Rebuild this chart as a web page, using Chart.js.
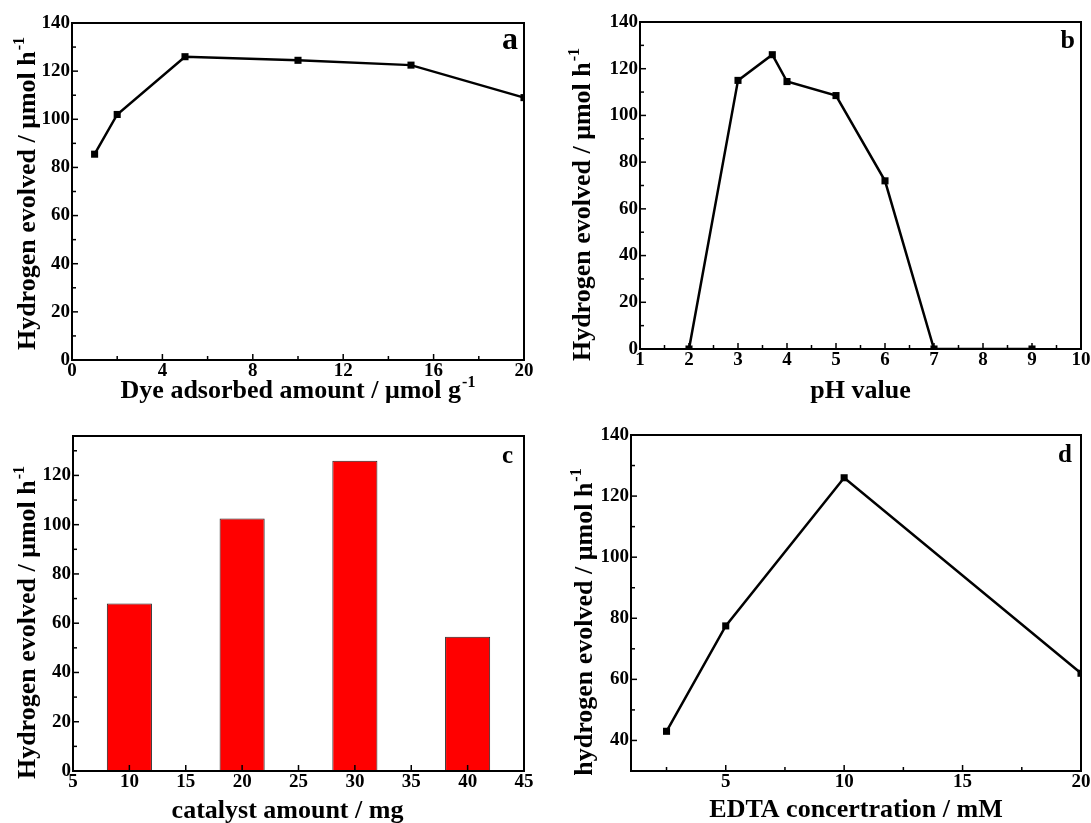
<!DOCTYPE html>
<html>
<head>
<meta charset="utf-8">
<script src="https://cdn.jsdelivr.net/npm/chart.js@4.4.0/dist/chart.umd.min.js"></script>
<style>
  body { margin: 0; background: #fff; }
  #wrap { position: relative; width: 1091px; height: 823px; overflow: hidden; background: #fff; }
  .panel { position: absolute; }
  .panel canvas { display: block; }
</style>
</head>
<body>
<div id="wrap">
  <div class="panel" style="left:0;top:0;width:545px;height:410px"><canvas id="chartA"></canvas></div>
  <div class="panel" style="left:545px;top:0;width:546px;height:410px"><canvas id="chartB"></canvas></div>
  <div class="panel" style="left:0;top:410px;width:545px;height:413px"><canvas id="chartC"></canvas></div>
  <div class="panel" style="left:545px;top:410px;width:546px;height:413px"><canvas id="chartD"></canvas></div>
</div>
<script>
// panel a - dye loading
const dyeAmount = [1, 2, 5, 10, 15, 20];
const dyeHydrogen = [85.5, 102, 126, 124.5, 122.5, 109];
const dyeXTicks = [0, 4, 8, 12, 16, 20];
const dyeXMinor = [2, 6, 10, 14, 18];

// shared y ticks for a and b
const hydrogenTicks = [0, 20, 40, 60, 80, 100, 120, 140];
const hydrogenMinor = [10, 30, 50, 70, 90, 110, 130];

// panel b - pH
const phValue = [2, 3, 3.7, 4, 5, 6, 7, 9];
const phHydrogen = [0, 115, 126, 114.5, 108.5, 72, 0, 0];
const phXTicks = [1, 2, 3, 4, 5, 6, 7, 8, 9, 10];
const phXMinor = [1.5, 2.5, 3.5, 4.5, 5.5, 6.5, 7.5, 8.5, 9.5];

// panel c - catalyst amount (bars)
const catalystAmount = [10, 20, 30, 40];
const catalystHydrogen = [68, 102.5, 126, 54.5];
const catalystXTicks = [5, 10, 15, 20, 25, 30, 35, 40, 45];
const catalystYTicks = [0, 20, 40, 60, 80, 100, 120];
const catalystYMinor = [10, 30, 50, 70, 90, 110, 130];

// panel d - EDTA
const edtaConc = [2.5, 5, 10, 20];
const edtaHydrogen = [43, 77.5, 126, 62];
const edtaXTicks = [5, 10, 15, 20];
const edtaXMinor = [2.5, 7.5, 12.5, 17.5];
const edtaYTicks = [40, 60, 80, 100, 120, 140];
const edtaYMinor = [50, 70, 90, 110, 130];

const FONT = '"Liberation Serif", "Times New Roman", serif';
const TITLE_SIZE = 26;
Chart.defaults.color = '#000';

function drawText(ctx, main, sup, size) {
  ctx.font = `bold ${size}px ${FONT}`;
  const w1 = ctx.measureText(main).width;
  const supSize = Math.round(size * 0.6);
  ctx.font = `bold ${supSize}px ${FONT}`;
  const w2 = sup ? ctx.measureText(sup).width + 1 : 0;
  const start = -(w1 + w2) / 2;
  ctx.font = `bold ${size}px ${FONT}`;
  ctx.fillText(main, start, 0);
  if (sup) {
    ctx.font = `bold ${supSize}px ${FONT}`;
    ctx.fillText(sup, start + w1 + 1, -size * 0.42);
  }
}

// frame, inward ticks, axis titles and panel letter
const frameTicks = {
  id: 'frameTicks',
  afterDraw(chart, args, o) {
    const { ctx, chartArea: ca, scales } = chart;
    ctx.save();
    ctx.strokeStyle = '#000';
    ctx.fillStyle = '#000';

    ctx.lineWidth = 1.5;
    const xTick = (v, len) => {
      const px = scales.x.getPixelForValue(v);
      ctx.beginPath();
      ctx.moveTo(px, ca.bottom);
      ctx.lineTo(px, ca.bottom - len);
      ctx.stroke();
    };
    const yTick = (v, len) => {
      const py = scales.y.getPixelForValue(v);
      ctx.beginPath();
      ctx.moveTo(ca.left, py);
      ctx.lineTo(ca.left + len, py);
      ctx.stroke();
    };
    scales.x.ticks.forEach(t => xTick(t.value, 6));
    scales.y.ticks.forEach(t => yTick(t.value, 6));
    (o.xMinor || []).forEach(v => xTick(v, 4));
    (o.yMinor || []).forEach(v => yTick(v, 4));

    ctx.lineWidth = 2;
    ctx.strokeRect(ca.left, ca.top, ca.right - ca.left, ca.bottom - ca.top);

    ctx.textAlign = 'left';
    ctx.textBaseline = 'alphabetic';
    const cx = (ca.left + ca.right) / 2;
    const cy = (ca.top + ca.bottom) / 2;

    const xt = o.xTitle;
    ctx.save();
    ctx.translate(cx + xt.dx, ca.bottom + xt.dy);
    drawText(ctx, xt.text, xt.sup, TITLE_SIZE);
    ctx.restore();

    const yt = o.yTitle;
    ctx.save();
    ctx.translate(ca.left + yt.dx, cy + yt.dy);
    ctx.rotate(-Math.PI / 2);
    drawText(ctx, yt.text, yt.sup, TITLE_SIZE);
    ctx.restore();

    const lt = o.letter;
    ctx.font = `bold ${lt.size}px ${FONT}`;
    ctx.textAlign = 'right';
    ctx.fillText(lt.text, ca.right + lt.dx, ca.top + lt.dy);
    ctx.restore();
  }
};

const tickFont = { family: FONT, size: 19, weight: 'bold' };

function makeOptions(pad, x, y, deco) {
  return {
    responsive: true,
    maintainAspectRatio: false,
    animation: false,
    layout: { padding: pad },
    plugins: {
      legend: { display: false },
      tooltip: { enabled: false },
      frameTicks: deco
    },
    scales: {
      x: {
        type: 'linear',
        min: x.min,
        max: x.max,
        offset: false,
        afterBuildTicks: s => { s.ticks = x.ticks.map(v => ({ value: v })); },
        afterFit: s => { s.height = 30; s.paddingLeft = 0; s.paddingRight = 0; },
        grid: { display: false, drawTicks: false, offset: false },
        border: { display: false },
        ticks: { autoSkip: false, maxRotation: 0, padding: 0, font: tickFont, color: '#000' }
      },
      y: {
        type: 'linear',
        min: y.min,
        max: y.max,
        afterBuildTicks: s => { s.ticks = y.ticks.map(v => ({ value: v })); },
        afterFit: s => { s.width = 44; s.paddingTop = 0; s.paddingBottom = 0; },
        grid: { display: false, drawTicks: false },
        border: { display: false },
        ticks: { autoSkip: false, padding: 2, font: tickFont, color: '#000' }
      }
    }
  };
}

function lineSet(xs, ys) {
  return {
    data: xs.map((v, i) => ({ x: v, y: ys[i] })),
    borderColor: '#000',
    borderWidth: 2.5,
    tension: 0,
    pointStyle: 'rect',
    pointRadius: 5,
    pointBorderWidth: 0,
    pointBackgroundColor: '#000',
    clip: 1
  };
}

const yTitleUpper = { text: 'Hydrogen evolved / \u03bcmol h', sup: '-1' };

new Chart(document.getElementById('chartA'), {
  type: 'line',
  data: { datasets: [lineSet(dyeAmount, dyeHydrogen)] },
  options: makeOptions(
    { left: 28, top: 23, right: 21, bottom: 20 },
    { min: 0, max: 20, ticks: dyeXTicks },
    { min: 0, max: 140, ticks: hydrogenTicks },
    {
      xMinor: dyeXMinor, yMinor: hydrogenMinor,
      xTitle: { text: 'Dye adsorbed amount / \u03bcmol g', sup: '-1', dx: 0, dy: 38 },
      yTitle: { ...yTitleUpper, dx: -37, dy: 2 },
      letter: { text: 'a', size: 32, dx: -6, dy: 26 }
    }
  ),
  plugins: [frameTicks]
});

new Chart(document.getElementById('chartB'), {
  type: 'line',
  data: { datasets: [lineSet(phValue, phHydrogen)] },
  options: makeOptions(
    { left: 51, top: 22, right: 10, bottom: 31 },
    { min: 1, max: 10, ticks: phXTicks },
    { min: 0, max: 140, ticks: hydrogenTicks },
    {
      xMinor: phXMinor, yMinor: hydrogenMinor,
      xTitle: { text: 'pH value', sup: '', dx: 0, dy: 49 },
      yTitle: { ...yTitleUpper, dx: -50, dy: 19 },
      letter: { text: 'b', size: 26, dx: -6, dy: 26 }
    }
  ),
  plugins: [frameTicks]
});

new Chart(document.getElementById('chartC'), {
  type: 'bar',
  data: {
    datasets: [{
      data: catalystAmount.map((v, i) => ({ x: v, y: catalystHydrogen[i] })),
      backgroundColor: '#ff0000',
      borderColor: '#222',
      borderWidth: 1,
      borderSkipped: false,
      categoryPercentage: 1,
      barPercentage: 0.8
    }]
  },
  options: makeOptions(
    { left: 29, top: 26, right: 21, bottom: 22 },
    { min: 5, max: 45, ticks: catalystXTicks },
    { min: 0, max: 136, ticks: catalystYTicks },
    {
      xMinor: [], yMinor: catalystYMinor,
      xTitle: { text: 'catalyst amount / mg', sup: '', dx: -11, dy: 47 },
      yTitle: { ...yTitleUpper, dx: -38, dy: 19 },
      letter: { text: 'c', size: 25, dx: -11, dy: 27 }
    }
  ),
  plugins: [frameTicks]
});

new Chart(document.getElementById('chartD'), {
  type: 'line',
  data: { datasets: [lineSet(edtaConc, edtaHydrogen)] },
  options: makeOptions(
    { left: 42, top: 25, right: 10, bottom: 22 },
    { min: 1, max: 20, ticks: edtaXTicks },
    { min: 30, max: 140, ticks: edtaYTicks },
    {
      xMinor: edtaXMinor, yMinor: edtaYMinor,
      xTitle: { text: 'EDTA concertration / mM', sup: '', dx: 0, dy: 46 },
      yTitle: { text: 'hydrogen evolved / \u03bcmol h', sup: '-1', dx: -39, dy: 19 },
      letter: { text: 'd', size: 25, dx: -9, dy: 27 }
    }
  ),
  plugins: [frameTicks]
});
</script>
</body>
</html>
